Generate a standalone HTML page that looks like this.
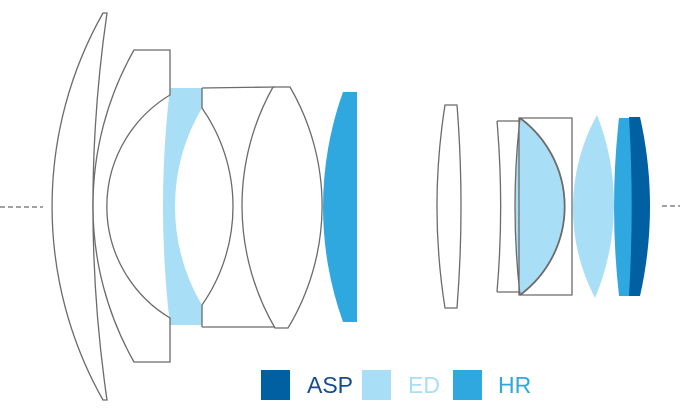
<!DOCTYPE html>
<html><head><style>
html,body{margin:0;padding:0;background:#fff;}
svg{display:block}
text{font-family:"Liberation Sans",sans-serif;font-size:23px}
</style></head><body>
<svg width="680" height="413" viewBox="0 0 680 413" xmlns="http://www.w3.org/2000/svg">
<g fill="none" stroke="#6b6b6b" stroke-width="1.3">
<line x1="0" y1="207" x2="43" y2="207" stroke-dasharray="5,3"/>
<line x1="662" y1="206" x2="680" y2="206" stroke-dasharray="5,3"/>
</g>
<!-- filled lenses -->
<path d="M170,88 L202,88 L202,108 A193,193 0 0 0 202,305 L202,325 L170,325 A1006,1006 0 0 1 170,88 Z" fill="#a9dff6"/>
<path d="M343,92 L357,92 L357,322 L343,322 A341,341 0 0 1 343,92 Z" fill="#2fa8e0"/>
<path d="M520,118 A110,110 0 0 1 520,295 A785,785 0 0 1 520,118 Z" fill="#a9dff6"/>
<path d="M597,115 A242,242 0 0 1 595,298 A193,193 0 0 1 597,115 Z" fill="#a9dff6"/>
<path d="M619,118 L632,118 L632,296 L619,296 A800,800 0 0 1 619,118 Z" fill="#2fa8e0"/>
<path d="M629,117 L640,117 A405,405 0 0 1 640,296 L629,296 A1500,1500 0 0 0 629,117 Z" fill="#0060a2"/>
<g fill="none" stroke="#6b6b6b" stroke-width="1.3">
<!-- lens1 -->
<path d="M103,13 L107,13 A1344,1344 0 0 0 107,400 L103,400 A393,393 0 0 1 103,13 Z"/>
<!-- lens2 -->
<path d="M134,50 L170,50 L170,95 A130,130 0 0 0 170,318 L170,362 L134,362 A317,317 0 0 1 134,50 Z"/>
<!-- lens4 box -->
<path d="M202,88 L275,87 M202,327 L275,327 M202,88 L202,108 A172,172 0 0 1 202,305 L202,327"/>
<!-- lens5 -->
<path d="M273,87 L290,87 A236,236 0 0 1 288,328 L275,328 A243,243 0 0 1 273,87 Z"/>
<!-- lens7 -->
<path d="M445,105 L457,105 A1290,1290 0 0 1 457,308 L445,308 A648,648 0 0 1 445,105 Z"/>
<!-- lens8 -->
<path d="M497,121 L520,121 M497,292 L520,292 M497,121 A1000,1000 0 0 1 497,292"/>
<!-- lens9 -->
<path d="M519,118 L572,118 L572,295 L519,295 Z"/>
<path d="M520,118 A110,110 0 0 1 520,295" stroke-width="1.8"/>
<path d="M520,118 A785,785 0 0 0 520,295"/>
</g>
<rect x="261" y="370" width="29" height="30" fill="#0060a2"/>
<text x="307" y="393" fill="#174c8c">ASP</text>
<rect x="362" y="370" width="29" height="30" fill="#a9dff6"/>
<text x="408" y="393" fill="#a9dff6">ED</text>
<rect x="453" y="370" width="29" height="30" fill="#2fa8e0"/>
<text x="498" y="393" fill="#2fa8e0">HR</text>
</svg>
</body></html>
